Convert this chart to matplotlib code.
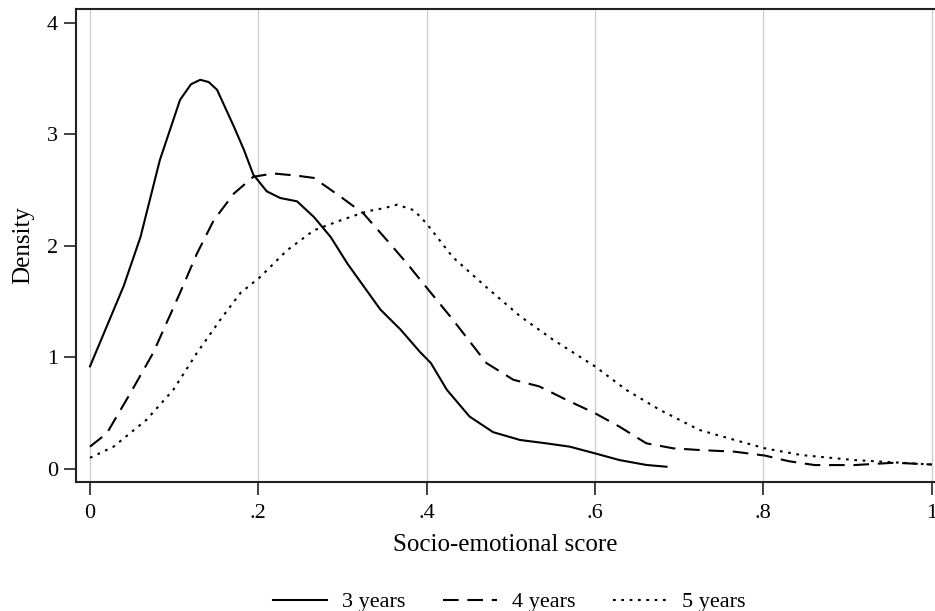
import matplotlib
matplotlib.use("Agg")
import matplotlib.pyplot as plt

# kernel density curves
x3 = [0, 0.02, 0.04, 0.06, 0.067, 0.075, 0.083, 0.107, 0.12, 0.131, 0.141, 0.151, 0.171, 0.183,
      0.194, 0.21, 0.226, 0.246, 0.266, 0.286, 0.306, 0.325, 0.345, 0.369, 0.392, 0.405,
      0.424, 0.451, 0.479, 0.511, 0.542, 0.57, 0.6, 0.629, 0.661, 0.685]
d3 = [0.92, 1.28, 1.64, 2.08, 2.29, 2.53, 2.77, 3.31, 3.45, 3.49, 3.47, 3.40, 3.07, 2.86,
      2.64, 2.49, 2.43, 2.40, 2.26, 2.08, 1.84, 1.64, 1.43, 1.25, 1.05, 0.95,
      0.71, 0.47, 0.33, 0.26, 0.23, 0.20, 0.14, 0.08, 0.036, 0.02]

x4 = [0, 0.02, 0.048, 0.075, 0.107, 0.127, 0.147, 0.171, 0.194, 0.218, 0.246, 0.266, 0.298,
      0.325, 0.353, 0.377, 0.392, 0.431, 0.471, 0.503, 0.534, 0.566, 0.6, 0.629, 0.661,
      0.693, 0.724, 0.766, 0.802, 0.83, 0.861, 0.908, 0.956, 1.0]
d4 = [0.20, 0.32, 0.68, 1.04, 1.58, 1.93, 2.23, 2.47, 2.62, 2.65, 2.63, 2.61, 2.44,
      2.29, 2.05, 1.84, 1.70, 1.34, 0.95, 0.80, 0.74, 0.62, 0.50, 0.38, 0.23,
      0.185, 0.17, 0.155, 0.12, 0.07, 0.035, 0.035, 0.056, 0.04]

x5 = [0, 0.028, 0.067, 0.099, 0.127, 0.155, 0.179, 0.202, 0.234, 0.266, 0.298, 0.329, 0.35,
      0.365, 0.385, 0.40, 0.431, 0.471, 0.511, 0.55, 0.6, 0.637, 0.677, 0.724, 0.766,
      0.802, 0.845, 0.908, 1.0]
d5 = [0.10, 0.20, 0.44, 0.71, 1.04, 1.34, 1.58, 1.72, 1.96, 2.14, 2.23, 2.31, 2.34,
      2.37, 2.32, 2.20, 1.90, 1.63, 1.37, 1.16, 0.92, 0.71, 0.53, 0.35, 0.26,
      0.185, 0.125, 0.08, 0.04]

labels = ["3 years", "4 years", "5 years"]
xticks = [0, 0.2, 0.4, 0.6, 0.8, 1]
xticklabels = ["0", ".2", ".4", ".6", ".8", "1"]
yticks = [0, 1, 2, 3, 4]

plt.rcParams["font.family"] = ["Liberation Serif", "DejaVu Serif"]
plt.rcParams["font.size"] = 16

fig = plt.figure(figsize=(9.35, 6.11), dpi=100)
ax = fig.add_axes([0.0813, 0.2111, 0.9187, 0.7742])

ax.plot(x3, d3, color="black", lw=1.5, ls="-", label=labels[0])
ax.plot(x4, d4, color="black", lw=1.5, ls=(0, (7.5, 4.2)), label=labels[1])
ax.plot(x5, d5, color="black", lw=1.5, ls=(0, (1.3, 2.7)), label=labels[2])

ax.set_xlim(-0.0166, 1.004)
ax.set_ylim(-0.117, 4.125)
ax.set_xticks(xticks)
ax.set_xticklabels(xticklabels)
ax.set_yticks(yticks)
ax.grid(axis="x", color="#cccccc", lw=0.9)
ax.set_axisbelow(True)

ax.spines["right"].set_visible(False)
for s in ["left", "bottom", "top"]:
    ax.spines[s].set_color("#222222")
    ax.spines[s].set_linewidth(1.5)
ax.tick_params(direction="out", length=9, width=1.2, color="#222222", labelsize=16)
ax.tick_params(axis="x", pad=7)
ax.tick_params(axis="y", pad=4)

ax.set_xlabel("Socio-emotional score", fontsize=18, labelpad=8)
ax.set_ylabel("Density", fontsize=18, labelpad=9)

fig.legend(loc="lower center", ncol=3, frameon=False, bbox_to_anchor=(0.545, -0.035),
           fontsize=16, handlelength=2.4, handletextpad=0.7, columnspacing=1.7)

fig.savefig("out.png", dpi=100)
